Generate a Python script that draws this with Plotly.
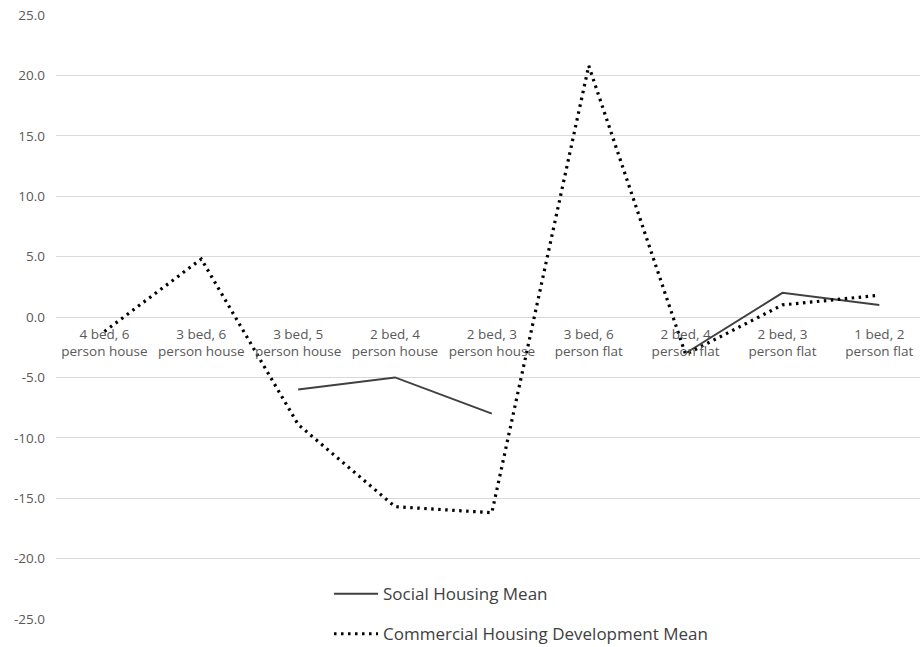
import plotly.graph_objects as go

categories = ["4 bed, 6<br>person house", "3 bed, 6<br>person house", "3 bed, 5<br>person house",
              "2 bed, 4<br>person house", "2 bed, 3<br>person house", "3 bed, 6<br>person flat",
              "2 bed, 4<br>person flat", "2 bed, 3<br>person flat", "1 bed, 2<br>person flat"]
social_mean = [None, None, -6.0, -5.0, -8.0, None, -3.0, 2.0, 1.0]
commercial_mean = [-1.2, 4.8, -8.9, -15.7, -16.2, 20.8, -3.1, 1.0, 1.8]
y_ticks = [-25, -20, -15, -10, -5, 0, 5, 10, 15, 20, 25]

x_idx = list(range(len(categories)))

fig = go.Figure()
fig.add_trace(go.Scatter(
    x=x_idx, y=social_mean, mode="lines", name="Social Housing Mean",
    line=dict(color="#404040", width=2), connectgaps=False, legendgroup="a"))
fig.add_trace(go.Scatter(
    x=x_idx, y=commercial_mean, mode="lines", name="Commercial Housing Development Mean",
    line=dict(color="#000000", width=3.2, dash="2.5px,4.5px"), legendgroup="b"))

fig.update_layout(
    width=920, height=647,
    margin=dict(l=56, r=0, t=15, b=28, autoexpand=False),
    paper_bgcolor="white", plot_bgcolor="white",
    font=dict(family="Open Sans", color="#595959"),
    showlegend=True,
    legend=dict(x=0.316, y=0.071, xanchor="left", yanchor="top",
                bgcolor="rgba(0,0,0,0)", font=dict(size=17, color="#404040"),
                tracegroupgap=15, itemwidth=44),
    xaxis=dict(range=[-0.5, 8.42], tickmode="array", tickvals=x_idx, ticktext=categories,
               anchor="free", position=0.5, showgrid=False, zeroline=False, showline=False,
               ticks="", tickfont=dict(size=13.5, color="#595959"), ticklabelstandoff=7,
               automargin=False),
    yaxis=dict(range=[-25, 25], tickmode="array", tickvals=y_ticks,
               ticktext=[f"{v:.1f}" for v in y_ticks], showgrid=True, gridcolor="#d9d9d9",
               gridwidth=1, zeroline=True, zerolinecolor="#d9d9d9", zerolinewidth=1,
               showline=False, ticks="", tickfont=dict(size=13.5, color="#595959"),
               ticklabelstandoff=10, domain=[0, 1], automargin=False),
)

fig.write_html("out.html")
